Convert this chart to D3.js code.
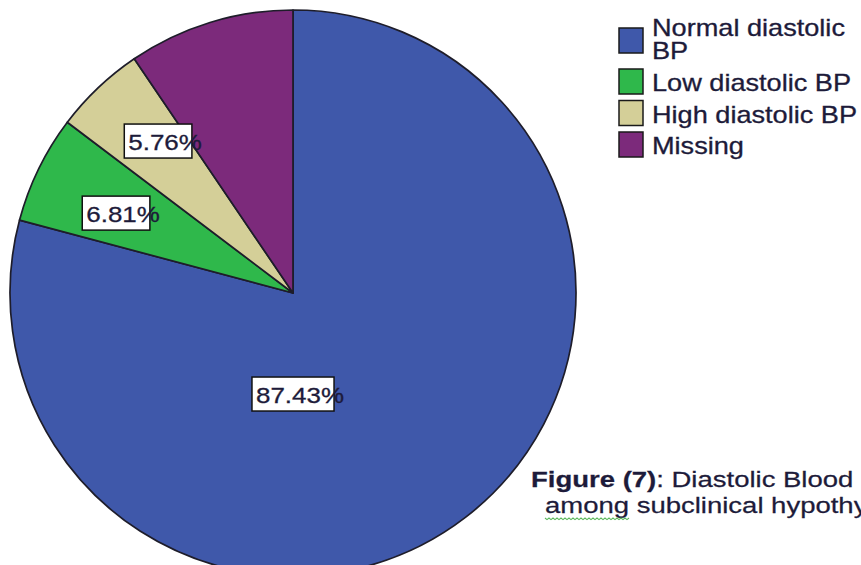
<!DOCTYPE html>
<html>
<head>
<meta charset="utf-8">
<script src="https://cdn.jsdelivr.net/npm/d3@7"></script>
<style>
  html, body { margin: 0; padding: 0; background: #fff; }
  svg { display: block; }
  text { font-family: "Liberation Sans", Arial, sans-serif; }
</style>
</head>
<body>
<svg id="chart" width="861" height="565"></svg>
<script>
// Diastolic blood pressure categories (case counts); "Missing" is shown in the pie
// but percentages are computed over valid cases only.
const categories = ["Normal diastolic BP", "Low diastolic BP", "High diastolic BP", "Missing"];
const counts = [167, 13, 11, 20];
const validFlags = [true, true, true, false];
const legendLines = [["Normal diastolic", "BP"], ["Low diastolic BP"], ["High diastolic BP"], ["Missing"]];
const captionBold = "Figure (7)";
const captionRest = ": Diastolic Blood";
const captionLine2 = "among subclinical hypothyroid";

const colors = ["#3f58aa", "#2fb84b", "#d4cf98", "#7c2a7b"];
// box-centre placement of each percentage label: [angle in degrees, fraction of radius]
const labelPlacement = [[180, 0.357], [294.3, 0.686], [318.4, 0.718], null];

const svg = d3.select("#chart");
const cx = 293, cy = 293, radius = 283;
const stretch = 1.18;
const capStretch = 1.25;
const ink = "#1d1b3a";

const data = categories.map((c, i) => ({ name: c, count: counts[i], valid: validFlags[i], color: colors[i], place: labelPlacement[i] }));
const validTotal = d3.sum(data.filter(d => d.valid), d => d.count);

const pie = d3.pie().value(d => d.count).sort(null).startAngle(0).endAngle(2 * Math.PI);
const arc = d3.arc().innerRadius(0).outerRadius(radius);
const arcs = pie(data);

const g = svg.append("g").attr("transform", `translate(${cx},${cy})`);
g.selectAll("path.slice")
  .data(arcs)
  .join("path")
  .attr("class", "slice")
  .attr("d", arc)
  .attr("fill", d => d.data.color)
  .attr("stroke", "#1e1d2a")
  .attr("stroke-width", 1.7)
  .attr("stroke-linejoin", "round");

// percentage labels in white boxes
arcs.filter(d => d.data.valid).forEach(d => {
  const [angDeg, frac] = d.data.place;
  const a = angDeg * Math.PI / 180;
  const bx = Math.sin(a) * radius * frac;
  const by = -Math.cos(a) * radius * frac;
  const label = (d.data.count / validTotal * 100).toFixed(2) + "%";
  const lg = g.append("g");
  const rect = lg.append("rect");
  const t = lg.append("text")
    .attr("font-size", 22)
    .attr("fill", ink)
    .attr("stroke", ink)
    .attr("stroke-width", 0.3)
    .text(label);
  const w = t.node().getComputedTextLength() * stretch;
  const boxW = w - 6, boxH = 34;
  const boxX = bx - boxW / 2, boxY = by - boxH / 2;
  rect.attr("x", boxX).attr("y", boxY).attr("width", boxW).attr("height", boxH)
    .attr("fill", "#fff").attr("stroke", "#111").attr("stroke-width", 1.5);
  t.attr("transform", `translate(${boxX + 4},${boxY + 26}) scale(${stretch},1)`);
});

// legend
const legend = svg.append("g").attr("transform", "translate(619,28)");
let yOff = 0;
data.forEach((d, i) => {
  const lines = legendLines[i];
  const item = legend.append("g").attr("transform", `translate(0,${yOff})`);
  item.append("rect")
    .attr("x", 0).attr("y", 0).attr("width", 24).attr("height", 25)
    .attr("fill", d.color).attr("stroke", "#1a1a1a").attr("stroke-width", 1.5);
  const baseline = lines.length > 1 ? 8 : 22;
  const txt = item.append("text")
    .attr("transform", `translate(33,${baseline}) scale(${stretch},1)`)
    .attr("font-size", 23)
    .attr("fill", ink)
    .attr("stroke", ink)
    .attr("stroke-width", 0.3);
  lines.forEach((ln, j) => {
    txt.append("tspan").attr("x", 0).attr("dy", j === 0 ? 0 : 23).text(ln);
  });
  yOff += lines.length > 1 ? 41 : 31.5;
});

// caption
const cap = svg.append("text")
  .attr("transform", `translate(531,487) scale(${capStretch},1)`)
  .attr("font-size", 22)
  .attr("fill", ink)
  .attr("stroke", ink)
  .attr("stroke-width", 0.25);
cap.append("tspan").attr("font-weight", "bold").text(captionBold);
cap.append("tspan").text(captionRest);

svg.append("text")
  .attr("transform", `translate(545,513) scale(${capStretch},1)`)
  .attr("font-size", 22)
  .attr("fill", ink)
  .attr("stroke", ink)
  .attr("stroke-width", 0.25)
  .text(captionLine2);

// spell-check squiggle under the first word
const firstWord = captionLine2.split(" ")[0];
const tmp = svg.append("text").attr("font-size", 22).text(firstWord);
const wordW = tmp.node().getComputedTextLength() * capStretch;
tmp.remove();
const sq = d3.path();
const sx = 545, sy = 518;
sq.moveTo(sx, sy);
for (let x = 0; x <= wordW; x += 2) {
  sq.lineTo(sx + x, sy + ((x / 2) % 2 === 0 ? 0 : 1.6));
}
svg.append("path").attr("d", sq.toString()).attr("fill", "none")
  .attr("stroke", "#5cb85c").attr("stroke-width", 1.1);
</script>
</body>
</html>
